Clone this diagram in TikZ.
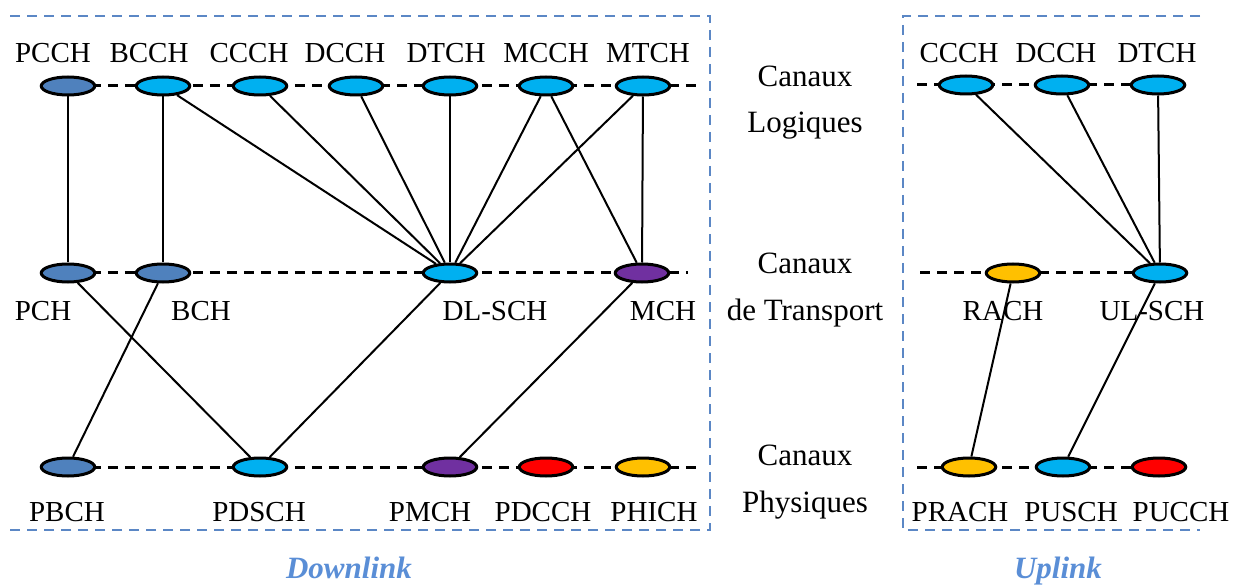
\documentclass[tikz,border=0pt]{standalone}
\usepackage{fontspec}
\setmainfont{Liberation Serif}
\usetikzlibrary{shapes.geometric,backgrounds}
\definecolor{chsteel}{HTML}{4F81BD}
\definecolor{chcyan}{HTML}{00B0F0}
\definecolor{chpurple}{HTML}{7030A0}
\definecolor{chred}{HTML}{FF0000}
\definecolor{chyellow}{HTML}{FFC000}
\definecolor{framecol}{HTML}{5B87C5}
\definecolor{titlecol}{HTML}{5A8ED6}
\begin{document}
\begin{tikzpicture}[x=1pt,y=-1pt,
  chan/.style={ellipse, draw=black, line width=3pt, minimum width=53.5pt, minimum height=18pt, inner sep=0pt},
  steel/.style={chan, fill=chsteel},
  cyanch/.style={chan, fill=chcyan},
  purplech/.style={chan, fill=chpurple},
  redch/.style={chan, fill=chred},
  yellowch/.style={chan, fill=chyellow},
  lbl/.style={anchor=base, inner sep=0pt, font=\fontsize{29}{34}\selectfont},
  side/.style={anchor=base, inner sep=0pt, font=\fontsize{31}{36}\selectfont},
  title/.style={anchor=base, inner sep=0pt, text=titlecol, font=\fontsize{31}{36}\selectfont\bfseries\itshape},
  rowline/.style={draw=black, line width=3pt, dash pattern=on 10pt off 7pt},
  link/.style={draw=black, line width=2pt},
  frame/.style={draw=framecol, line width=2.8pt, dash pattern=on 10pt off 7pt}
]
\useasboundingbox (0,0) rectangle (1243,588);

% ---- Downlink: logical channels ----
\node[steel]  (pcch) at (68,86) {};
\node[cyanch] (bcch) at (163,86) {};
\node[cyanch] (ccch) at (260,86) {};
\node[cyanch] (dcch) at (356,86) {};
\node[cyanch] (dtch) at (450,86) {};
\node[cyanch] (mcch) at (546,86) {};
\node[cyanch] (mtch) at (643,86) {};
\coordinate (dlA) at (696,86);

% ---- Downlink: transport channels ----
\node[steel]    (pch)   at (68,273) {};
\node[steel]    (bch)   at (163,273) {};
\node[cyanch]   (dlsch) at (450,273) {};
\node[purplech] (mch)   at (642,273) {};
\coordinate (dlB) at (688,273);

% ---- Downlink: physical channels ----
\node[steel]    (pbch)  at (68,467) {};
\node[cyanch]   (pdsch) at (260,467) {};
\node[purplech] (pmch)  at (450,467) {};
\node[redch]    (pdcch) at (546,467) {};
\node[yellowch] (phich) at (643,467) {};
\coordinate (dlC) at (696,467);

% ---- Uplink ----
\coordinate (ulA) at (917,85);
\node[cyanch] (uccch) at (966,85) {};
\node[cyanch] (udcch) at (1062,85) {};
\node[cyanch] (udtch) at (1158,85) {};

\coordinate (ulB) at (920,273);
\node[yellowch] (rach)  at (1013,273) {};
\node[cyanch]   (ulsch) at (1160,273) {};

\coordinate (ulC) at (917,467);
\node[yellowch] (prach) at (969,467) {};
\node[cyanch]   (pusch) at (1063,467) {};
\node[redch]    (pucch) at (1159,467) {};

\begin{scope}[on background layer]
  % dashed level lines
  \draw[rowline] (pcch.west) -- (dlA);
  \draw[rowline] (pch.west) -- (dlB);
  \draw[rowline] (pbch.west) -- (dlC);
  \draw[rowline] (ulA) -- (udtch.center);
  \draw[rowline] (ulB) -- (ulsch.center);
  \draw[rowline] (ulC) -- (pucch.center);
  % downlink mappings
  \draw[link] (pcch) -- (pch);
  \draw[link] (bcch) -- (bch);
  \draw[link] (bcch) -- (dlsch);
  \draw[link] (ccch) -- (dlsch);
  \draw[link] (dcch) -- (dlsch);
  \draw[link] (dtch) -- (dlsch);
  \draw[link] (mcch) -- (dlsch);
  \draw[link] (mtch) -- (dlsch);
  \draw[link] (mcch) -- (mch);
  \draw[link] (mtch) -- (mch);
  \draw[link] (pch) -- (pdsch);
  \draw[link] (bch) -- (pbch);
  \draw[link] (dlsch) -- (pdsch);
  \draw[link] (mch) -- (pmch);
  % uplink mappings
  \draw[link] (uccch) -- (ulsch);
  \draw[link] (udcch) -- (ulsch);
  \draw[link] (udtch) -- (ulsch);
  \draw[link] (rach) -- (prach);
  \draw[link] (ulsch) -- (pusch);
\end{scope}

% ---- channel names ----
\node[lbl] (t1) at (53,63)  {PCCH};
\node[lbl] (t2) at (149,63) {BCCH};
\node[lbl] (t3) at (249,63) {CCCH};
\node[lbl] (t4) at (345,63) {DCCH};
\node[lbl] (t5) at (446,63) {DTCH};
\node[lbl] (t6) at (546,63) {MCCH};
\node[lbl] (t7) at (648,63) {MTCH};

\node[lbl] (t8)  at (43,320)  {PCH};
\node[lbl] (t9)  at (201,320) {BCH};
\node[lbl] (t10) at (495,320) {DL-SCH};
\node[lbl] (t11) at (663,320) {MCH};

\node[lbl] (t12) at (67,521)  {PBCH};
\node[lbl] (t13) at (259,521) {PDSCH};
\node[lbl] (t14) at (430,521) {PMCH};
\node[lbl] (t15) at (543,521) {PDCCH};
\node[lbl] (t16) at (654,521) {PHICH};

\node[lbl] (u1) at (959,63)  {CCCH};
\node[lbl] (u2) at (1056,63) {DCCH};
\node[lbl] (u3) at (1157,63) {DTCH};
\node[lbl] (u4) at (1003,320) {RACH};
\node[lbl] (u5) at (1152,320) {UL-SCH};
\node[lbl] (u6) at (960,521)  {PRACH};
\node[lbl] (u7) at (1071,521) {PUSCH};
\node[lbl] (u8) at (1181,521) {PUCCH};

% ---- level names ----
\node[side] (s1) at (805,87)  {Canaux};
\node[side] (s2) at (805,133) {Logiques};
\node[side] (s3) at (805,273) {Canaux};
\node[side] (s4) at (805,320) {de Transport};
\node[side] (s5) at (805,465) {Canaux};
\node[side] (s6) at (805,512) {Physiques};

% ---- link direction frames ----
\draw[frame] (10,16) -- (710,16) -- (710,530) -- (10,530);
\draw[frame] (1200,16) -- (903,16) -- (903,530) -- (1200,530);

\node[title] (dl) at (349,578) {Downlink};
\node[title] (ul) at (1058,578) {Uplink};
\end{tikzpicture}
\end{document}
